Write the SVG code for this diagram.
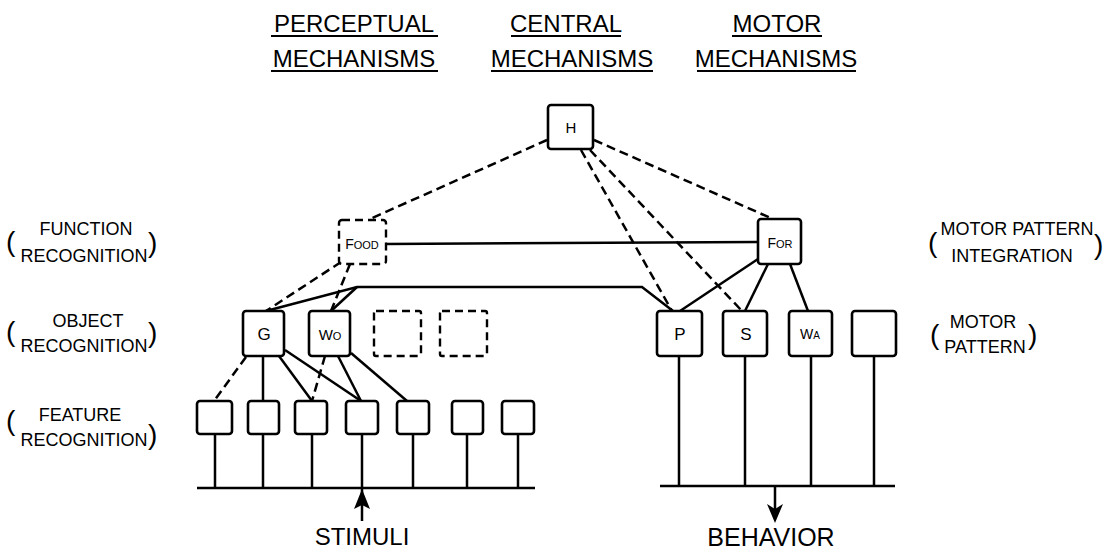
<svg xmlns="http://www.w3.org/2000/svg" width="1109" height="554" viewBox="0 0 1109 554">
<style>
.box{fill:#fff;stroke:#000;stroke-width:2.6}
.dbox{fill:#fff;stroke:#000;stroke-width:2.4;stroke-dasharray:8 5}
.ln{fill:none;stroke:#000;stroke-width:2.5}
.dl{fill:none;stroke:#000;stroke-width:2.5;stroke-dasharray:9 5}
text{font-family:"Liberation Sans",Arial,sans-serif;fill:#000}
.hd{font-size:24px;text-anchor:middle}
.lb{font-size:18px;text-anchor:middle}
.pr{font-size:28px}
.nl{font-size:17px;text-anchor:middle}
.sm{font-size:15px;text-anchor:middle}
.ul{stroke:#000;stroke-width:2}
</style>
<rect width="1109" height="554" fill="#fff"/>
<g id="headers">
<text class="hd" x="354" y="32">PERCEPTUAL</text>
<line class="ul" x1="271" y1="36" x2="438" y2="36"/>
<text class="hd" x="354" y="67">MECHANISMS</text>
<line class="ul" x1="271" y1="71" x2="438" y2="71"/>
<text class="hd" x="566" y="32">CENTRAL</text>
<line class="ul" x1="511" y1="36" x2="621" y2="36"/>
<text class="hd" x="572" y="67">MECHANISMS</text>
<line class="ul" x1="491" y1="71" x2="653" y2="71"/>
<text class="hd" x="777" y="32">MOTOR</text>
<line class="ul" x1="732" y1="36" x2="822" y2="36"/>
<text class="hd" x="776" y="67">MECHANISMS</text>
<line class="ul" x1="697" y1="71" x2="856" y2="71"/>
</g>
<g id="level-labels">
<text class="pr" x="6" y="251">(</text>
<text class="lb" x="86" y="235">FUNCTION</text>
<text class="lb" x="84" y="262">RECOGNITION</text>
<text class="pr" x="148" y="252">)</text>
<text class="pr" x="6" y="341">(</text>
<text class="lb" x="88" y="327">OBJECT</text>
<text class="lb" x="84" y="352">RECOGNITION</text>
<text class="pr" x="148" y="342">)</text>
<text class="pr" x="6" y="430">(</text>
<text class="lb" x="80" y="421">FEATURE</text>
<text class="lb" x="84" y="446">RECOGNITION</text>
<text class="pr" x="148" y="444">)</text>
<text class="pr" x="928" y="252">(</text>
<text class="lb" x="1017" y="235">MOTOR PATTERN</text>
<text class="lb" x="1012" y="262">INTEGRATION</text>
<text class="pr" x="1094" y="254">)</text>
<text class="pr" x="930" y="344">(</text>
<text class="lb" x="983" y="328">MOTOR</text>
<text class="lb" x="985" y="353">PATTERN</text>
<text class="pr" x="1028" y="344">)</text>
<text class="hd" x="362" y="545">STIMULI</text>
<text class="hd" x="771" y="546" style="font-size:25px">BEHAVIOR</text>
</g>
<g id="connectors">
<path class="dl" d="M547,140 L370,219"/>
<path class="dl" d="M594,140 L773,219"/>
<path class="dl" d="M581,150 L672,311"/>
<path class="dl" d="M590,150 L742,311"/>
<path class="dl" d="M341,262 L266,311"/>
<path class="dl" d="M350,264 L331,311"/>
<path class="dl" d="M246,357 L214,401"/>
<path class="dl" d="M325,356 L312,401"/>
<path class="ln" d="M386,244 L758,242"/>
<path class="ln" d="M266,311 L357,287 L642,287 L673,311"/>
<path class="ln" d="M331,311 L357,287"/>
<path class="ln" d="M758,259 L680,311"/>
<path class="ln" d="M768,264 L745,311"/>
<path class="ln" d="M790,264 L808,311"/>
<path class="ln" d="M263,356 L263,401"/>
<path class="ln" d="M279,356 L312,401"/>
<path class="ln" d="M285,350 L361,401"/>
<path class="ln" d="M338,356 L361,401"/>
<path class="ln" d="M351,353 L407,401"/>
<path class="ln" d="M215,434 V488 M263,434 V488 M312,434 V488 M362,434 V521 M413,434 V488 M467,434 V488 M518,434 V488"/>
<path class="ln" d="M197,488 H535"/>
<polygon points="362,489 354,509 362,505 370,509" fill="#000"/>
<path class="ln" d="M679,356 V486 M745,356 V486 M811,356 V486 M874,356 V486"/>
<path class="ln" d="M660,486 H895 M775,486 V518"/>
<polygon points="775,523 767,504 775,509 783,504" fill="#000"/>
</g>
<g id="node-H"><rect class="box" x="548" y="105" width="45" height="44" rx="3"/><text class="sm" x="571" y="133">H</text></g>
<g id="node-food"><rect class="dbox" x="339" y="220" width="47" height="44" rx="3"/><text x="362" y="249" text-anchor="middle" style="font-size:14px">F<tspan style="font-size:11px">OOD</tspan></text></g>
<g id="node-for"><rect class="box" x="758" y="219" width="43" height="45" rx="3"/><text x="780" y="248" text-anchor="middle" style="font-size:14px">F<tspan style="font-size:11px">OR</tspan></text></g>
<g id="node-G"><rect class="box" x="243" y="311" width="41" height="45" rx="3"/><text class="nl" x="264" y="340">G</text></g>
<g id="node-Wo"><rect class="box" x="309" y="311" width="41" height="45" rx="3"/><text x="330" y="340" text-anchor="middle" style="font-size:15px">W<tspan style="font-size:11px">O</tspan></text></g>
<g id="node-obj3"><rect class="dbox" x="374" y="311" width="47" height="45" rx="2"/></g>
<g id="node-obj4"><rect class="dbox" x="440" y="311" width="47" height="45" rx="2"/></g>
<g id="node-P"><rect class="box" x="657" y="311" width="45" height="45" rx="3"/><text class="nl" x="680" y="340">P</text></g>
<g id="node-S"><rect class="box" x="723" y="311" width="44" height="45" rx="3"/><text class="nl" x="746" y="340">S</text></g>
<g id="node-Wa"><rect class="box" x="789" y="311" width="43" height="45" rx="3"/><text x="810" y="339" text-anchor="middle" style="font-size:14px">W<tspan style="font-size:10px">A</tspan></text></g>
<g id="node-motor4"><rect class="box" x="852" y="311" width="44" height="45" rx="3"/></g>
<g id="node-f1"><rect class="box" x="197" y="401" width="35" height="33" rx="3"/></g>
<g id="node-f2"><rect class="box" x="248" y="401" width="31" height="33" rx="3"/></g>
<g id="node-f3"><rect class="box" x="295" y="401" width="32" height="33" rx="3"/></g>
<g id="node-f4"><rect class="box" x="346" y="401" width="32" height="33" rx="3"/></g>
<g id="node-f5"><rect class="box" x="397" y="401" width="32" height="33" rx="3"/></g>
<g id="node-f6"><rect class="box" x="452" y="401" width="31" height="33" rx="3"/></g>
<g id="node-f7"><rect class="box" x="502" y="401" width="32" height="33" rx="3"/></g>
</svg>
